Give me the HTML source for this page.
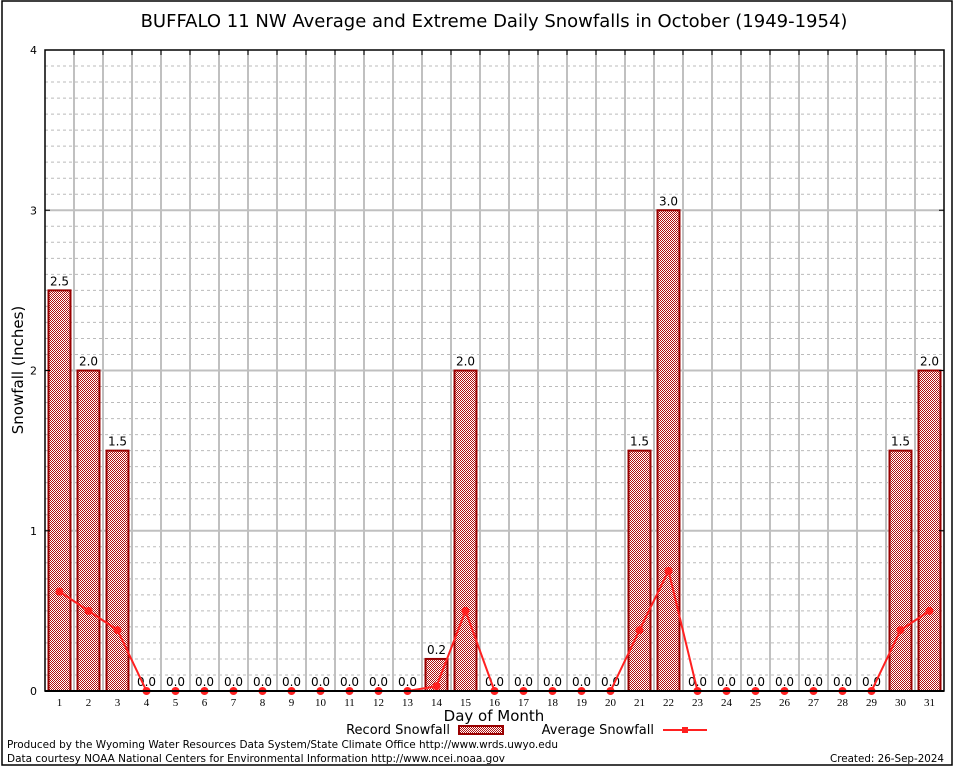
<!DOCTYPE html>
<html><head><meta charset="utf-8"><style>
body{margin:0;background:#fff;}
svg{display:block;font-family:"DejaVu Sans","Liberation Sans",sans-serif;}
</style></head><body>
<svg id="chart" width="954" height="768" viewBox="0 0 954 768">
<defs>
<pattern id="chk" width="2" height="2" patternUnits="userSpaceOnUse">
<rect width="2" height="2" fill="#fff"/><rect width="1" height="1" fill="#b01010"/><rect x="1" y="1" width="1" height="1" fill="#b01010"/>
</pattern>
</defs>
<rect x="2" y="1" width="950" height="764" fill="none" stroke="#000" stroke-width="1.5"/>
<text x="494" y="27" font-size="18" text-anchor="middle">BUFFALO 11 NW Average and Extreme Daily Snowfalls in October (1949-1954)</text>
<g id="grid"></g>
<g id="bars"></g>
<g id="avg"></g>
<g id="axes"></g>
<text x="23" y="370" font-size="15" text-anchor="middle" transform="rotate(-90 23 370)">Snowfall (Inches)</text>
<text x="494" y="721" font-size="15" text-anchor="middle">Day of Month</text>
<g>
<text x="450" y="734" font-size="13" text-anchor="end">Record Snowfall</text>
<rect x="459" y="726" width="44" height="8" fill="url(#chk)" stroke="#990000" stroke-width="2"/>
<text x="654" y="734" font-size="13" text-anchor="end">Average Snowfall</text>
<line x1="663" y1="730" x2="707" y2="730" stroke="#ff2020" stroke-width="2"/>
<rect x="682" y="727" width="6" height="6" fill="#ff2020"/>
</g>
<text x="7" y="748" font-size="11" textLength="551" lengthAdjust="spacingAndGlyphs">Produced by the Wyoming Water Resources Data System/State Climate Office http://www.wrds.uwyo.edu</text>
<text x="7" y="762" font-size="11" textLength="498" lengthAdjust="spacingAndGlyphs">Data courtesy NOAA National Centers for Environmental Information http://www.ncei.noaa.gov</text>
<text x="944" y="762" font-size="11" text-anchor="end" textLength="114" lengthAdjust="spacingAndGlyphs">Created: 26-Sep-2024</text>
</svg>
<script>
const days=[1,2,3,4,5,6,7,8,9,10,11,12,13,14,15,16,17,18,19,20,21,22,23,24,25,26,27,28,29,30,31];
const recordValues=[2.5,2.0,1.5,0,0,0,0,0,0,0,0,0,0,0.2,2.0,0,0,0,0,0,1.5,3.0,0,0,0,0,0,0,0,1.5,2.0];
const averageValues=[0.62,0.5,0.38,0,0,0,0,0,0,0,0,0,0,0.03,0.5,0,0,0,0,0,0.38,0.75,0,0,0,0,0,0,0,0.38,0.5];
const yTicks=[0,1,2,3,4];
const NS='http://www.w3.org/2000/svg';
const L=45,R=944,T=50,B=691,YMAX=4;
const bw=(R-L)/days.length;
function x(i){return L+bw*(i+0.5);}
function y(v){return B-(B-T)*v/YMAX;}
function mk(tag,attrs,parent,text){const e=document.createElementNS(NS,tag);for(const k in attrs)e.setAttribute(k,attrs[k]);if(text!==undefined)e.textContent=text;parent.appendChild(e);return e;}
const grid=document.getElementById('grid'),bars=document.getElementById('bars'),avg=document.getElementById('avg'),axes=document.getElementById('axes');
for(let v=0;v<YMAX;v+=0.1){const yy=y(v);if(Math.abs(v-Math.round(v))<1e-6)continue;
const g=mk('line',{x1:L,x2:R,y1:yy,y2:yy,stroke:'#bbb','stroke-dasharray':'3,3','stroke-width':1},grid);

}
for(let i=1;i<days.length;i++){const xx=L+bw*i;
const g=mk('line',{x1:xx,x2:xx,y1:T,y2:B,stroke:'#c0c0c0','stroke-width':2},grid);

}
yTicks.forEach(t=>{const yy=y(t);
if(t>0&&t<YMAX){const g=mk('line',{x1:L,x2:R,y1:yy,y2:yy,stroke:'#c0c0c0','stroke-width':2},grid);

}
const tl=mk('text',{x:L-8,y:yy+4,'font-size':11,'text-anchor':'end'},axes,String(t));


mk('line',{x1:L,x2:L+5,y1:yy,y2:yy,stroke:'#000'},axes);mk('line',{x1:R,x2:R-5,y1:yy,y2:yy,stroke:'#000'},axes);});
days.forEach((d,i)=>{const v=recordValues[i];
if(v>0){const r=mk('rect',{x:x(i)-11,y:y(v),width:22,height:B-y(v),fill:'url(#chk)',stroke:'#990000','stroke-width':2},bars);

}
const lb=mk('text',{x:x(i),y:y(v)-5,'font-size':12,'text-anchor':'middle'},bars,v.toFixed(1));


const xl=mk('text',{x:x(i),y:B+15,'font-size':11,'text-anchor':'middle','font-family':'Liberation Serif, serif'},axes,String(d));


mk('line',{x1:L+bw*i,x2:L+bw*i,y1:T,y2:T+5,stroke:'#000'},axes);});
const pl=mk('polyline',{points:days.map((d,i)=>x(i)+','+y(averageValues[i])).join(' '),fill:'none',stroke:'#ff2020','stroke-width':2},avg);


days.forEach((d,i)=>{const c=mk('circle',{cx:x(i),cy:y(averageValues[i]),r:4,fill:'#ff2020'},avg);

});
const fr=mk('rect',{x:L,y:T,width:R-L,height:B-T,fill:'none',stroke:'#000','stroke-width':1.5},axes);


const bl=mk('line',{x1:L,x2:R,y1:B,y2:B,stroke:'#000','stroke-width':2},axes);


</script>
</body></html>
